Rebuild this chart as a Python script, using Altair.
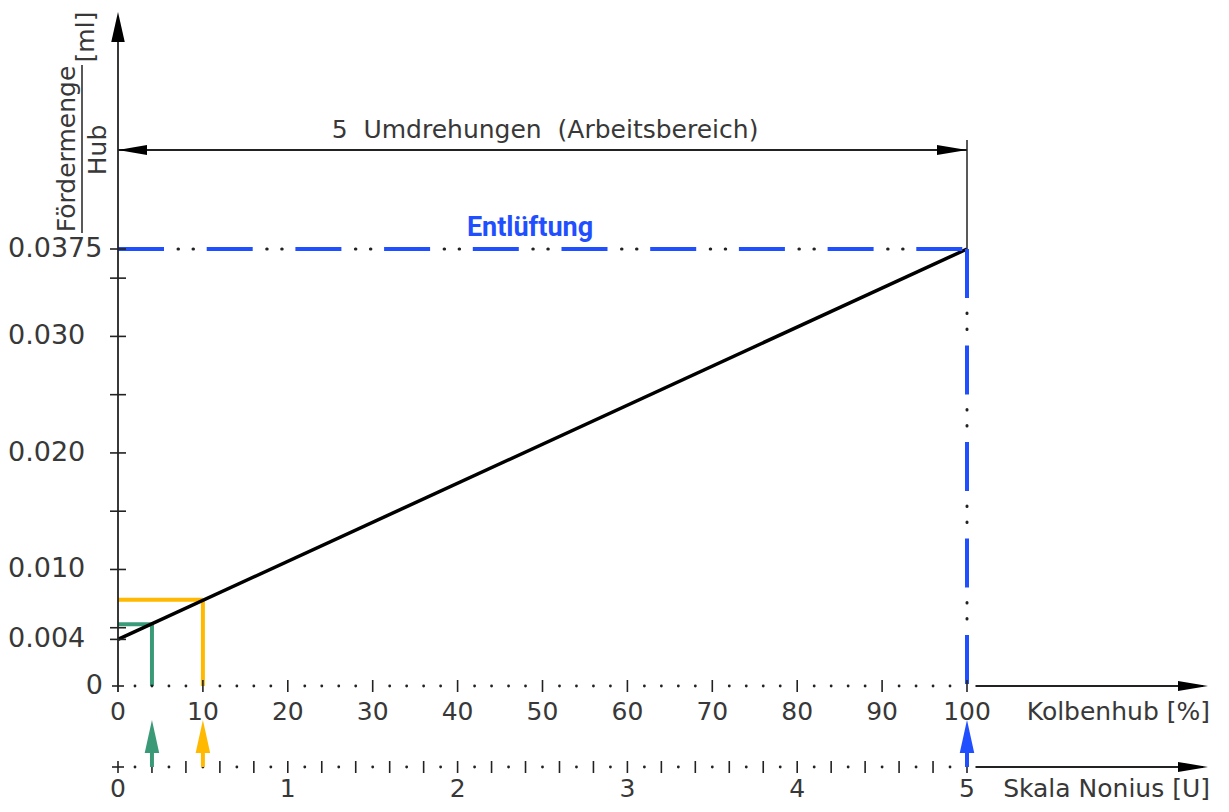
import altair as alt
import pandas as pd

# ---------------- data ----------------
stroke_pct = [0, 100]                    # Kolbenhub [%]
volume_ml = [0.004, 0.0375]              # Fördermenge / Hub [ml]
marker_pct = [4, 10]                     # green / yellow settings
marker_ml = [0.0053, 0.0074]
marker_colors = ["#3a9a78", "#ffb900"]
vent_pct = 100                           # Entlüftung setting
vent_ml = 0.0375
vent_color = "#1f4fff"
x_tick_values = [0, 10, 20, 30, 40, 50, 60, 70, 80, 90, 100]
x_tick_labels = ["0", "10", "20", "30", "40", "50", "60", "70", "80", "90", "100"]
nonius_values = [0, 1, 2, 3, 4, 5]
nonius_labels = ["0", "1", "2", "3", "4", "5"]
y_tick_values = [0.004, 0.010, 0.020, 0.030, 0.0375]
y_tick_labels = ["0.004", "0.010", "0.020", "0.030", "0.0375"]
y_minor_values = [0.005, 0.015, 0.025, 0.035]

# ---------------- layout (plot area = 0..100 % x 0..0.0375 ml) ----------------
W, H = 849, 437
PXX = 100 / W          # % per pixel
PXY = 0.0375 / H       # ml per pixel
FONT = "DejaVu Sans"
INK = "#222222"
TXT = "#383838"

XS = alt.Scale(domain=[0, 100], nice=False, zero=False)
YS = alt.Scale(domain=[0, 0.0375], nice=False, zero=False)


def ex(f="x"):
    return alt.X(f"{f}:Q", scale=XS, axis=None)


def ey(f="y"):
    return alt.Y(f"{f}:Q", scale=YS, axis=None)


Y_NONIUS = -81 * PXY
Y_TOP = 674 * PXY
Y_DIM = 536 * PXY
X_END = 1090 * PXX
Y_XLAB = -26 * PXY
Y_NLAB = -103 * PXY
Y_TIP = -34 * PXY

layers = []

# colored setting markers
seg = []
for mx, my, c in zip(marker_pct, marker_ml, marker_colors):
    seg.append({"x": 0, "x2": mx, "y": my, "y2": my, "c": c})
    seg.append({"x": mx, "x2": mx, "y": 0, "y2": my, "c": c})
layers.append(
    alt.Chart(pd.DataFrame(seg)).mark_rule(strokeWidth=4, strokeCap="butt").encode(
        x=ex(), x2="x2:Q", y=ey(), y2="y2:Q", color=alt.Color("c:N", scale=None)
    )
)

# main characteristic line
layers.append(
    alt.Chart(pd.DataFrame({"x": stroke_pct, "y": volume_ml}))
    .mark_line(color="#000000", strokeWidth=3.5)
    .encode(x=ex(), y=ey())
)

# Entlüftung dash-dot-dot lines
hv = pd.DataFrame({"x": [0], "x2": [vent_pct], "y": [vent_ml], "y2": [vent_ml]})
vv = pd.DataFrame({"x": [vent_pct], "x2": [vent_pct], "y": [vent_ml], "y2": [0]})
layers.append(alt.Chart(hv).mark_rule(color=vent_color, strokeWidth=4, strokeDash=[46, 42.7], strokeCap="butt")
              .encode(x=ex(), x2="x2:Q", y=ey(), y2="y2:Q"))
layers.append(alt.Chart(hv).mark_rule(color=INK, strokeWidth=3, strokeDash=[0.5, 14.5, 0.5, 73.2],
                                      strokeDashOffset=28.7, strokeCap="round")
              .encode(x=ex(), x2="x2:Q", y=ey(), y2="y2:Q"))
# vertical long dashes as explicit segments of the dash pattern (period 96.5 px, dash 49 px)
vdash = []
for k in range(5):
    a = k * 96.5
    b = min(a + 49, H)
    vdash.append({"x": vent_pct, "y": vent_ml - a * PXY, "y2": vent_ml - b * PXY})
layers.append(alt.Chart(pd.DataFrame(vdash)).mark_rule(color=vent_color, strokeWidth=4, strokeCap="butt")
              .encode(x=ex(), y=ey(), y2="y2:Q"))
layers.append(alt.Chart(vv).mark_rule(color=INK, strokeWidth=3, strokeDash=[0.5, 15.5, 0.5, 80],
                                      strokeDashOffset=32.5, strokeCap="round")
              .encode(x=ex(), x2="x2:Q", y=ey(), y2="y2:Q"))

# axis / dimension lines
lines = pd.DataFrame([
    {"x": 0, "x2": 0, "y": -6 * PXY, "y2": Y_TOP - 5 * PXY, "w": 1.8},           # y axis
    {"x": 101, "x2": X_END - 5 * PXX, "y": 0, "y2": 0, "w": 1.8},                # Kolbenhub axis
    {"x": 101, "x2": X_END - 5 * PXX, "y": Y_NONIUS, "y2": Y_NONIUS, "w": 1.8},  # Nonius axis
    {"x": 0, "x2": 100, "y": Y_DIM, "y2": Y_DIM, "w": 2},                        # dimension line
    {"x": 100, "x2": 100, "y": vent_ml, "y2": 546 * PXY, "w": 1.5},              # extension line
    {"x": -36 * PXX, "x2": -36 * PXX, "y": 453 * PXY, "y2": 621 * PXY, "w": 1.5},  # fraction bar
])
layers.append(alt.Chart(lines).mark_rule(color=INK).encode(
    x=ex(), x2="x2:Q", y=ey(), y2="y2:Q", strokeWidth=alt.StrokeWidth("w:Q", scale=None)))

# ticks
vt = [{"x": v, "y": 0} for v in x_tick_values[1:]] + \
     [{"x": 4 * k, "y": Y_NONIUS} for k in range(0, 26)]
layers.append(alt.Chart(pd.DataFrame(vt)).mark_tick(orient="vertical", size=12, thickness=1.6, color=INK, opacity=1)
              .encode(x=ex(), y=ey()))
ht = [{"x": 0, "y": 0, "s": 12}, {"x": 0, "y": Y_NONIUS, "s": 12}] + \
     [{"x": 0, "y": v, "s": 16} for v in y_tick_values + y_minor_values]
layers.append(alt.Chart(pd.DataFrame(ht)).mark_tick(orient="horizontal", thickness=1.6, color=INK, opacity=1)
              .encode(x=ex(), y=ey(), size=alt.Size("s:Q", scale=None)))

# dots
dots = [{"x": v, "y": 0} for v in range(2, 100, 2) if v % 10 != 0] + \
       [{"x": v, "y": Y_NONIUS} for v in range(2, 100, 4)]
layers.append(alt.Chart(pd.DataFrame(dots)).mark_circle(size=8, color=INK, opacity=1)
              .encode(x=ex(), y=ey()))

# arrow stems below
stems = pd.DataFrame({"x": marker_pct + [vent_pct], "c": marker_colors + [vent_color]})
stems["y"] = Y_NONIUS
stems["y2"] = -55 * PXY
layers.append(alt.Chart(stems).mark_rule(strokeWidth=4).encode(
    x=ex(), y=ey(), y2="y2:Q", color=alt.Color("c:N", scale=None)))

UP = "M0,0L0.44,2L-0.44,2Z"
RIGHT = "M0,0L-2,0.34L-2,-0.34Z"
LEFT = "M0,0L2,0.34L2,-0.34Z"
arr_up = pd.DataFrame({"x": marker_pct + [vent_pct], "y": [Y_TIP] * 3, "c": marker_colors + [vent_color]})
layers.append(alt.Chart(arr_up).mark_point(shape=UP, size=1089, filled=True, opacity=1, strokeWidth=0)
              .encode(x=ex(), y=ey(), color=alt.Color("c:N", scale=None)))
layers.append(alt.Chart(pd.DataFrame({"x": [0], "y": [Y_TOP]}))
              .mark_point(shape="M0,0L0.45,2L-0.45,2Z", size=900, filled=True, opacity=1, strokeWidth=0, color="#000")
              .encode(x=ex(), y=ey()))
layers.append(alt.Chart(pd.DataFrame({"x": [X_END, X_END, 100], "y": [0, Y_NONIUS, Y_DIM]}))
              .mark_point(shape=RIGHT, size=900, filled=True, opacity=1, strokeWidth=0, color="#000")
              .encode(x=ex(), y=ey()))
layers.append(alt.Chart(pd.DataFrame({"x": [0], "y": [Y_DIM]}))
              .mark_point(shape=LEFT, size=841, filled=True, opacity=1, strokeWidth=0, color="#000")
              .encode(x=ex(), y=ey()))

# tick labels
txt = dict(font=FONT, fontSize=25, color=TXT, baseline="middle")
layers.append(alt.Chart(pd.DataFrame({"x": x_tick_values, "t": x_tick_labels, "y": Y_XLAB}))
              .mark_text(align="center", **txt).encode(x=ex(), y=ey(), text="t:N"))
layers.append(alt.Chart(pd.DataFrame({"x": [v * 20 for v in nonius_values], "t": nonius_labels, "y": Y_NLAB}))
              .mark_text(align="center", **txt).encode(x=ex(), y=ey(), text="t:N"))
layers.append(alt.Chart(pd.DataFrame({"y": y_tick_values, "t": y_tick_labels, "x": -110 * PXX}))
              .mark_text(align="left", font=FONT, fontSize=27, color=TXT, baseline="middle")
              .encode(x=ex(), y=ey(), text="t:N"))
layers.append(alt.Chart(pd.DataFrame({"y": [0], "t": ["0"], "x": -15 * PXX}))
              .mark_text(align="right", font=FONT, fontSize=27, color=TXT, baseline="middle")
              .encode(x=ex(), y=ey(), text="t:N"))

# axis titles and annotations
ann = pd.DataFrame([
    {"x": 1092 * PXX, "y": Y_XLAB, "t": "Kolbenhub [%]"},
    {"x": 1092 * PXX, "y": Y_NLAB, "t": "Skala Nonius [U]"},
])
layers.append(alt.Chart(ann).mark_text(align="right", **txt).encode(x=ex(), y=ey(), text="t:N"))
layers.append(alt.Chart(pd.DataFrame({"x": [427 * PXX], "y": [556 * PXY],
                                      "t": ["5\u00a0 Umdrehungen\u00a0 (Arbeitsbereich)"]}))
              .mark_text(align="center", **txt).encode(x=ex(), y=ey(), text="t:N"))
layers.append(alt.Chart(pd.DataFrame({"x": [412 * PXX], "y": [458 * PXY], "t": ["Entlüftung"]}))
              .mark_text(align="center", baseline="middle", font="Roboto", fontWeight="bold",
                         fontSize=27, color=vent_color)
              .encode(x=ex(), y=ey(), text="t:N"))
ylab = pd.DataFrame([
    {"x": -43 * PXX, "y": 537 * PXY, "t": "Fördermenge"},
    {"x": -12 * PXX, "y": 536 * PXY, "t": "Hub"},
    {"x": -24 * PXX, "y": 649 * PXY, "t": "[ml]"},
])
layers.append(alt.Chart(ylab).mark_text(align="center", baseline="alphabetic", angle=270,
                                        font=FONT, fontSize=25, color=TXT)
              .encode(x=ex(), y=ey(), text="t:N"))

chart = alt.layer(*layers).properties(
    width=W, height=H,
    autosize=alt.AutoSizeParams(type="none"),
    padding={"left": 110, "top": 241, "right": 254, "bottom": 116},
    background="white",
).configure_view(stroke=None)

chart.save("out.html", embed_options={"renderer": "svg", "actions": False})
